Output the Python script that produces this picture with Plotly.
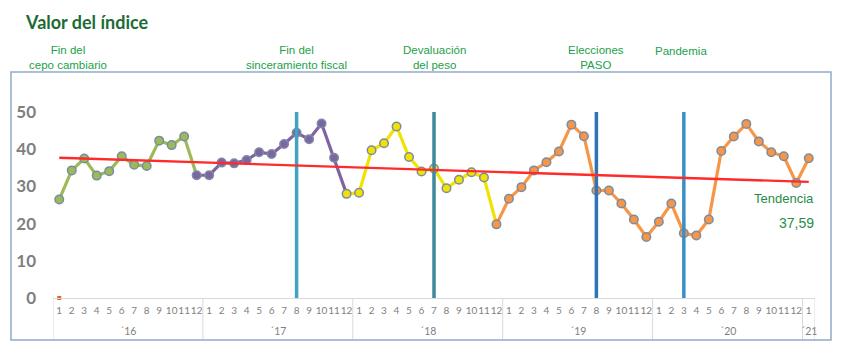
import plotly.graph_objects as go

# ---------------- data ----------------
years = [2016, 2017, 2018, 2019, 2020, 2021]
year_labels = ["´16", "´17", "´18", "´19", "´20", "´21"]
months = list(range(1, 13)) * 5 + [1]
values = [
    26.5, 34.3, 37.5, 32.9, 34.1, 38.1, 35.8, 35.5, 42.3, 41.1, 43.4, 33.0,
    33.0, 36.4, 36.2, 37.1, 39.2, 38.7, 41.4, 44.4, 42.7, 46.9, 37.7, 28.0,
    28.3, 39.7, 41.6, 46.1, 37.9, 34.0, 34.8, 29.5, 31.8, 33.8, 32.4, 19.8,
    26.7, 29.8, 34.3, 36.5, 39.4, 46.6, 43.5, 28.9, 28.9, 25.4, 21.1, 16.4,
    20.5, 25.4, 17.4, 16.8, 21.1, 39.5, 43.4, 46.8, 42.1, 39.2, 38.1, 30.9,
    37.59,
]
year_colors = {2016: "#9bbb59", 2017: "#8064a2", 2018: "#f2e200",
               2019: "#f79646", 2020: "#f79646", 2021: "#f79646"}
trend_start, trend_end = 37.7, 31.2
last_value_label = "37,59"

event_labels = ["Fin del<br>cepo cambiario", "Fin del<br>sinceramiento fiscal",
                "Devaluación<br>del peso", "Elecciones<br>PASO", "Pandemia"]
event_label_x = [0.7, 19, 30, 43, 49.8]
event_lines_x = [19, 30, 43, 50]
event_line_colors = ["#3fa3c2", "#3d8a9c", "#2e75b6", "#3b8fc4"]
event_top = 50

# ---------------- derived ----------------
point_year = []
for yi, y in enumerate(years):
    n = 12 if y != 2021 else 1
    point_year += [y] * n
x = list(range(len(values)))

W, H = 841, 353
L, R, T, B = 53, 26, 112, 55
PW, PH = W - L - R, H - T - B
def px_x(p):
    return (p - L) / PW
def px_y(p):
    return (H - B - p) / PH

fig = go.Figure()

# line segments per colour group
groups = []
for i in range(len(values) - 1):
    c = year_colors[point_year[i + 1]]
    if groups and groups[-1][0] == c:
        groups[-1][1].append(i + 1)
    else:
        groups.append([c, [i, i + 1]])
for c, idx in groups:
    fig.add_trace(go.Scatter(x=idx, y=[values[k] for k in idx], mode="lines",
                             line=dict(color=c, width=3.2), hoverinfo="skip",
                             showlegend=False, cliponaxis=False))

marker_colors = [year_colors[point_year[min(i + 1, len(values) - 1)]] for i in x]
fig.add_trace(go.Scatter(x=x, y=values, mode="markers",
                         marker=dict(color=marker_colors, size=8.5,
                                     line=dict(color="#7a8ca4", width=1.5)),
                         showlegend=False, cliponaxis=False))

# tiny hidden-series mark at zero
fig.add_trace(go.Scatter(x=[0], y=[0], mode="markers",
                         marker=dict(color="#e8632a", size=4, symbol="square"),
                         showlegend=False, cliponaxis=False))

# event lines
for ex, ec in zip(event_lines_x, event_line_colors):
    fig.add_trace(go.Scatter(x=[ex, ex], y=[0, event_top], mode="lines",
                             line=dict(color=ec, width=3.5), showlegend=False,
                             hoverinfo="skip", cliponaxis=False))

# trend
fig.add_trace(go.Scatter(x=[x[0], x[-1]], y=[trend_start, trend_end], mode="lines",
                         line=dict(color="#ff2a2a", width=2.3), showlegend=False,
                         cliponaxis=False))

shapes = []
# year dividers
bounds = [-0.5, 11.5, 23.5, 35.5, 47.5, 59.5, 60.5]
for bx in bounds:
    shapes.append(dict(type="line", xref="x", yref="paper", x0=bx, x1=bx,
                       y0=0, y1=px_y(340), line=dict(color="#d9d9d9", width=1)))
# outer box
shapes.append(dict(type="rect", xref="paper", yref="paper",
                   x0=px_x(11), x1=px_x(831), y0=px_y(340), y1=px_y(72),
                   line=dict(color="#93abc9", width=1.5)))

annotations = []
centers = [5.5, 17.5, 29.5, 41.5, 53.5, 60]
for cx, lab in zip(centers, year_labels):
    annotations.append(dict(x=cx, y=px_y(331), xref="x", yref="paper", text=lab,
                            xanchor="center", yanchor="middle",
                            showarrow=False, font=dict(family="Lato", size=10.5, color="#7f7f7f")))
for ex, lab in zip(event_label_x, event_labels):
    single = "<br>" not in lab
    annotations.append(dict(x=ex, y=px_y(51 if single else 57), xref="x", yref="paper",
                            xanchor="center", yanchor="middle",
                            text=lab, showarrow=False, align="center",
                            font=dict(family="Liberation Sans", size=11.5, color="#22a14a")))
annotations.append(dict(x=px_x(23), y=px_y(22), xref="paper", yref="paper",
                        xanchor="left", yanchor="middle", text="<b>Valor del índice</b>",
                        showarrow=False,
                        font=dict(family="Lato", size=18, color="#1c6b35")))
annotations.append(dict(x=px_x(816), y=px_y(198), xref="paper", yref="paper",
                        xanchor="right", yanchor="middle", text="Tendencia", showarrow=False,
                        font=dict(family="Liberation Sans", size=13, color="#1f8e47")))
annotations.append(dict(x=px_x(816), y=px_y(223), xref="paper", yref="paper",
                        xanchor="right", yanchor="middle", text=last_value_label, showarrow=False,
                        font=dict(family="Liberation Sans", size=14, color="#1f8e47")))

fig.update_layout(
    width=W, height=H, margin=dict(l=L, r=R, t=T, b=B),
    paper_bgcolor="white", plot_bgcolor="white",
    shapes=shapes, annotations=annotations,
    xaxis=dict(range=[-0.5, 60.5], tickvals=x, ticktext=[str(m) for m in months],
               tickangle=0, showgrid=False, zeroline=False, showline=True,
               linecolor="#d9d9d9", linewidth=1, ticks="", ticklabelstandoff=3,
               tickfont=dict(family="Lato", size=10, color="#7f7f7f")),
    yaxis=dict(range=[0, 50], tickvals=[0, 10, 20, 30, 40, 50], showgrid=False,
               zeroline=False, showline=False, ticks="", ticklabelstandoff=16,
               tickfont=dict(family="Lato", size=17, color="#7f7f7f", weight="bold")),
)
fig.write_html("out.html")
